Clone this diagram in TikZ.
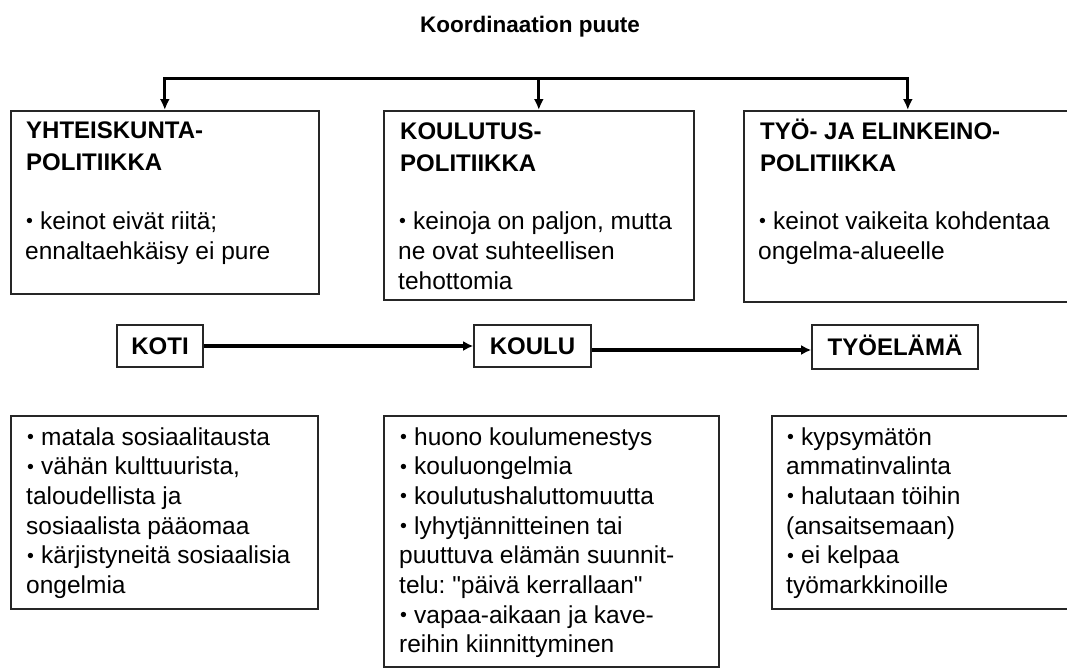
\documentclass[tikz,border=0pt]{standalone}
\usepackage{graphicx}
\usepackage{fontspec}
\setmainfont{Liberation Sans}
\newfontfamily\qfont{Liberation Sans}
\usetikzlibrary{arrows.meta}
\frenchspacing
\newcommand\dq{{\qfont"}}
\newcommand\bul{\makebox[15pt][l]{\hspace*{1pt}\raisebox{1.6pt}{\scalebox{0.8}{\textbullet}}}}
\newcommand\bitem{\par\hangindent=15pt\hangafter=1\noindent\bul}
\newcommand\tb[2]{\parbox[t]{#1}{\setlength\parindent{0pt}\setlength\parskip{0pt}\raggedright\hyphenpenalty=10000 #2}}
\begin{document}
\begin{tikzpicture}[x=1pt,y=-1pt,
  box/.style={draw=black!85, line width=1.6pt, rectangle, inner sep=0pt, anchor=north west},
  lbl/.style={draw=black!85, line width=1.6pt, rectangle, inner sep=0pt, text height=17.2pt, text depth=0pt, font=\fontsize{24}{28}\selectfont\bfseries},
  head/.style={anchor=base west, inner sep=0pt, font=\fontsize{24}{32}\selectfont\bfseries},
  body/.style={anchor=base west, inner sep=0pt, font=\fontsize{24.5}{30}\selectfont},
  bodyb/.style={anchor=base west, inner sep=0pt, font=\fontsize{24.5}{29.7}\selectfont},
  bar/.style={line width=3pt, line cap=rect},
  arr/.style={line width=3pt, -{Latex[length=11pt,width=10pt]}},
  arrm/.style={line width=4pt, -{Latex[length=10pt,width=10pt]}},
]
\useasboundingbox (0,0) rectangle (1067,667);
\clip (0,0) rectangle (1067,667);
\fill[white] (0,0) rectangle (1067,667);

% title
\node[anchor=base, inner sep=0pt, font=\fontsize{22.5}{26}\selectfont\bfseries] (title) at (530,32) {Koordinaation puute};

% top boxes
\node[box, minimum width=308pt, minimum height=183pt] (p1) at (10,110) {};
\node[box, minimum width=310pt, minimum height=189pt] (p2) at (383,110) {};
\node[box, minimum width=328pt, minimum height=191pt] (p3) at (743,110) {};

\node[head] (h1) at (26,138) {\tb{290pt}{YHTEISKUNTA-\\POLITIIKKA}};
\node[head] (h2) at (400,139) {\tb{290pt}{KOULUTUS-\\POLITIIKKA}};
\node[head] (h3) at (760,139) {\tb{300pt}{TYÖ- JA ELINKEINO-\\POLITIIKKA}};

\node[body] (t1) at (25,229) {\tb{300pt}{\bitem keinot eivät riitä;\\ennaltaehkäisy ei pure}};
\node[body] (t2) at (398,229) {\tb{300pt}{\bitem keinoja on paljon, mutta\\ne ovat suhteellisen\\tehottomia}};
\node[body] (t3) at (758,229) {\tb{300pt}{\bitem keinot vaikeita kohdentaa\\ongelma-alueelle}};

% bracket
\coordinate (bar) at (538,78);
\draw[bar] (p1.north |- bar) -- (p3.north |- bar);
\draw[arr] (p1.north |- bar) -- (p1.north);
\draw[arr] (p2.north |- bar) -- (p2.north);
\draw[arr] (p3.north |- bar) -- (p3.north);

% middle row
\node[lbl, minimum width=86pt, minimum height=42pt] (koti) at (160,346) {KOTI};
\node[lbl, minimum width=117pt, minimum height=42pt] (koulu) at (532.5,346) {KOULU};
\node[lbl, minimum width=166pt, minimum height=44pt] (tyo) at (895,347) {TYÖELÄMÄ};
\draw[arrm] (koti) -- (koulu);
\draw[arrm] ([yshift=-4pt]koulu.east) -- ([yshift=-3pt]tyo.west);

% bottom boxes
\node[box, minimum width=307pt, minimum height=193pt] (b1) at (10,415) {};
\node[box, minimum width=335pt, minimum height=251pt] (b2) at (383,415) {};
\node[box, minimum width=300pt, minimum height=193pt] (b3) at (771,415) {};

\node[bodyb] (u1) at (26,445) {\tb{300pt}{\bitem matala sosiaalitausta\bitem vähän kulttuurista,\\taloudellista ja\\sosiaalista pääomaa\bitem kärjistyneitä sosiaalisia\\ongelmia}};
\node[bodyb] (u2) at (399,445) {\tb{320pt}{\bitem huono koulumenestys\bitem kouluongelmia\bitem koulutushaluttomuutta\bitem lyhytjännitteinen tai\\puuttuva elämän suunnit-\\telu: \dq päivä kerrallaan\dq\bitem vapaa-aikaan ja kave-\\reihin kiinnittyminen}};
\node[bodyb] (u3) at (786,445) {\tb{280pt}{\bitem kypsymätön\\ammatinvalinta\bitem halutaan töihin\\(ansaitsemaan)\bitem ei kelpaa\\työmarkkinoille}};
\end{tikzpicture}
\end{document}
